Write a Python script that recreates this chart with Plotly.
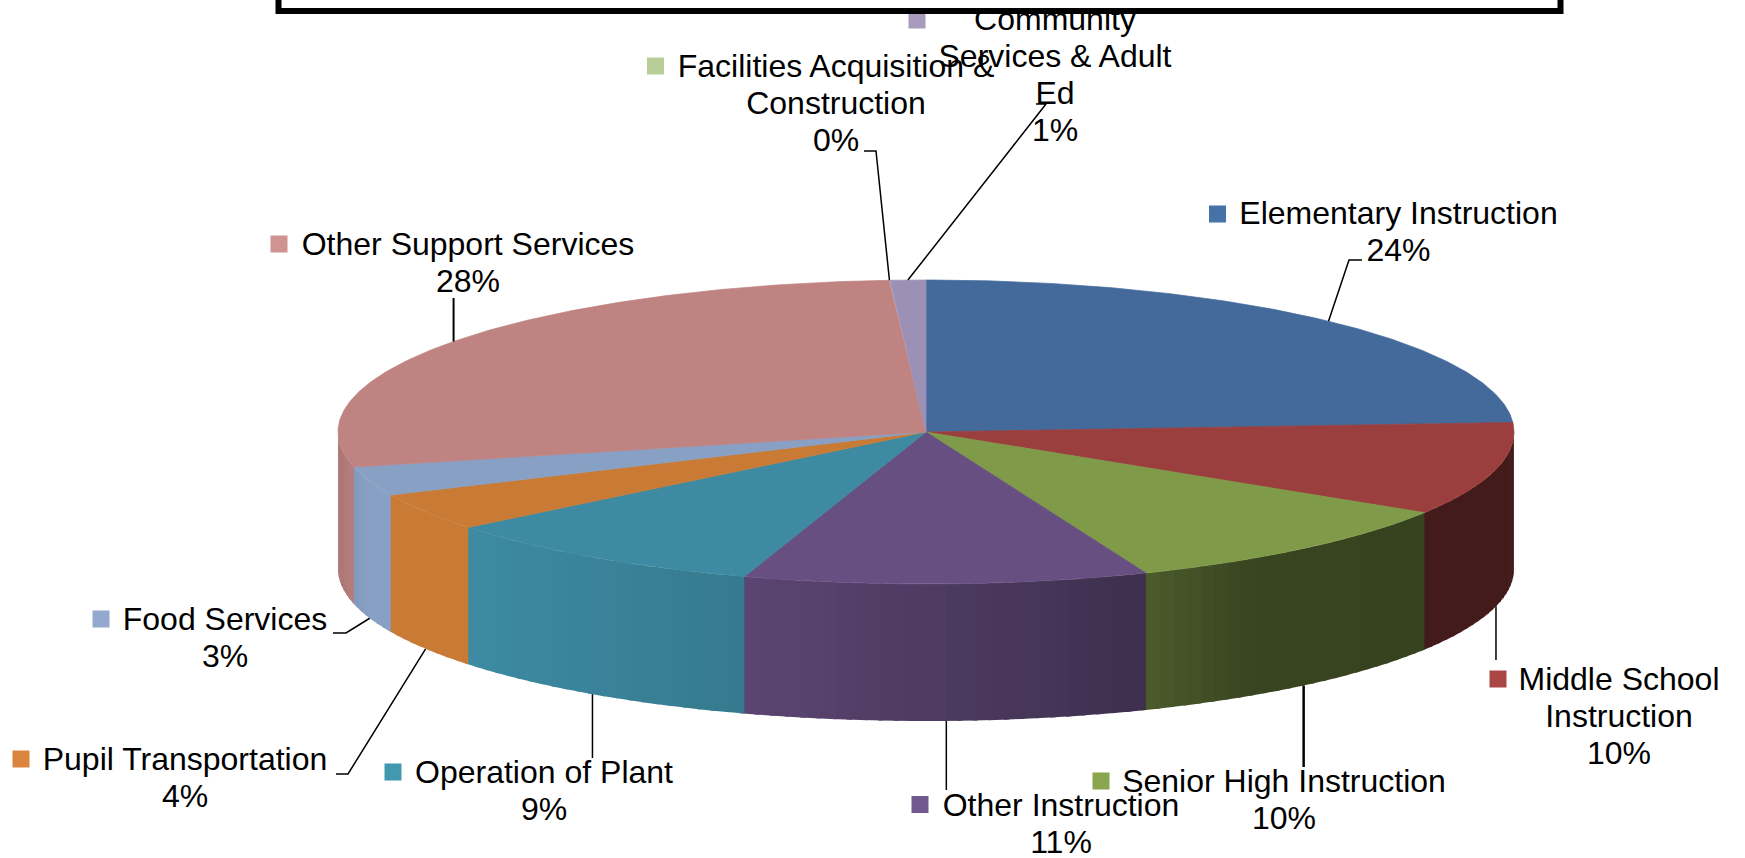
import numpy as np
import plotly.graph_objects as go

# ---------- data ----------
categories = ["Elementary Instruction", "Middle School Instruction", "Senior High Instruction",
              "Other Instruction", "Operation of Plant", "Pupil Transportation", "Food Services",
              "Other Support Services", "Facilities Acquisition & Construction",
              "Community Services & Adult Ed"]
values = [24.0, 9.9, 10.0, 11.1, 9.2, 4.0, 3.1, 27.7, 0.02, 0.98]
label_lines = [["Elementary Instruction"], ["Middle School", "Instruction"], ["Senior High Instruction"],
               ["Other Instruction"], ["Operation of Plant"], ["Pupil Transportation"], ["Food Services"],
               ["Other Support Services"], ["Facilities Acquisition &", "Construction"],
               ["Community", "Services & Adult", "Ed"]]

# ---------- style ----------
top_colors = ["#436A9B", "#9B3E3E", "#7F9A48", "#674F82", "#3D8AA2", "#C97B35", "#87A0C4", "#BF8382", "#B7CE93", "#9D90B5"]
key_colors = ["#4572A7", "#AA4643", "#89A54E", "#71588F", "#4198AF", "#DB843D", "#93A9CF", "#D19392", "#B9CD96", "#A99BBD"]
CX, CY, RX, RY, DEPTH = 926, 432, 588, 152, 137
SHADE_U = [-1.0, -0.95, -0.77, -0.31, 0.37, 0.55, 0.85, 1.0]
SHADE_F = [0.90, 1.00, 1.00, 0.88, 0.60, 0.45, 0.43, 0.43]
FONT = dict(family="Liberation Sans, Arial, sans-serif", size=32, color="black")
LINE_GAP = 37.3
label_cx = [1398.5, 1619, 1284, 1061, 544, 185, 225, 468, 836, 1055]
label_y = [215.5, 681.5, 783.5, 807.5, 774.5, 761.5, 621.5, 246.5, 68.5, 21.5]
key_xy = [(1217.5, 214), (1498, 679), (1101, 781), (920, 804.5), (393, 772), (21, 759), (101, 619), (279, 244), (655.5, 66), (917, 20)]
on_wall = [False, True, True, True, True, True, True, False, False, False]
leader_rest = [[(1349, 260), (1362, 260)], [(None, 660)], [(None, 767)], [(None, 790)], [(None, 758)],
               [(348, 774), (336, 774)], [(346, 633), (333, 633)], [(None, 298)],
               [(876, 151), (864, 151)], [(1046, 104), (1036, 104)]]
leader_w = [1.5, 1.5, 2.5, 1.5, 1.5, 1.5, 1.5, 2, 1.5, 1.5]


def shade(hex_color, f):
    r, g, b = (int(hex_color[i:i + 2], 16) for i in (1, 3, 5))
    return f"rgb({r * f:.0f},{g * f:.0f},{b * f:.0f})"


def rim(t_deg, drop=0.0):
    t = np.radians(t_deg)
    return CX + RX * np.sin(t), CY - RY * np.cos(t) + drop


total = sum(values)
edges = np.concatenate([[0], np.cumsum(values)]) / total * 360
fig = go.Figure()

# side wall strips, painted right to left; each runs a little under the next
for i, color in enumerate(top_colors):
    a, b = max(edges[i], 90), min(edges[i + 1], 270)
    if b <= a:
        continue
    n = max(int((b - a) / 1.5), 1)
    ts = np.linspace(a, b, n + 1)
    for t0, t1 in zip(ts[:-1], ts[1:]):
        arc = np.linspace(t0, min(t1 + 0.5, 270), 4)
        xt, yt = rim(arc)
        xb, yb = rim(arc[::-1], DEPTH)
        u = np.sin(np.radians((t0 + t1) / 2))
        c = shade(color, np.interp(u, SHADE_U, SHADE_F))
        fig.add_trace(go.Scatter(x=np.r_[xt, xb], y=np.r_[yt, yb], mode="lines", fill="toself",
                                 fillcolor=c, line=dict(width=0), hoverinfo="skip"))

# top face
for i, color in enumerate(top_colors):
    if values[i] < 0.5:
        continue
    arc = np.linspace(edges[i], edges[i + 1], max(int(edges[i + 1] - edges[i]) * 2, 3))
    x, y = rim(arc)
    fig.add_trace(go.Scatter(x=np.r_[CX, x, CX], y=np.r_[CY, y, CY], mode="lines", fill="toself",
                             fillcolor=color, line=dict(color=color, width=0.7), hoverinfo="skip"))

# leader lines
for i in range(len(values)):
    mid = (edges[i] + edges[i + 1]) / 2
    sx, sy = rim(mid, DEPTH if on_wall[i] else 0)
    xs, ys = [sx], [sy]
    for px, py in leader_rest[i]:
        xs.append(sx if px is None else px)
        ys.append(py)
    fig.add_trace(go.Scatter(x=xs, y=ys, mode="lines", line=dict(color="black", width=leader_w[i]), hoverinfo="skip"))

# labels (drawn as a trace so that the frame shape can cover them)
tx, ty, tt = [], [], []
for i, lines in enumerate(label_lines):
    pct = f"{round(values[i] / total * 100)}%"
    for j, line in enumerate(lines + [pct]):
        tx.append(label_cx[i])
        ty.append(label_y[i] + j * LINE_GAP)
        tt.append(line)
fig.add_trace(go.Scatter(x=tx, y=ty, text=tt, mode="text", textposition="middle center", textfont=FONT, hoverinfo="skip"))

# legend keys
fig.add_trace(go.Scatter(x=[k[0] for k in key_xy], y=[k[1] for k in key_xy], mode="markers",
                         marker=dict(symbol="square", size=17, color=key_colors, line=dict(width=0)), hoverinfo="skip"))

fig.update_layout(
    width=1745, height=858, margin=dict(l=0, r=0, t=0, b=0), showlegend=False,
    paper_bgcolor="white", plot_bgcolor="white",
    xaxis=dict(range=[0, 1745], visible=False, fixedrange=True),
    yaxis=dict(range=[858, 0], visible=False, fixedrange=True),
    shapes=[dict(type="rect", xref="x", yref="y", x0=278.5, x1=1560.5, y0=-20, y1=11, layer="above",
                 fillcolor="white", line=dict(color="black", width=6))],
)
fig.write_html("out.html", config=dict(displayModeBar=False), post_script="document.body.style.margin='0';")
